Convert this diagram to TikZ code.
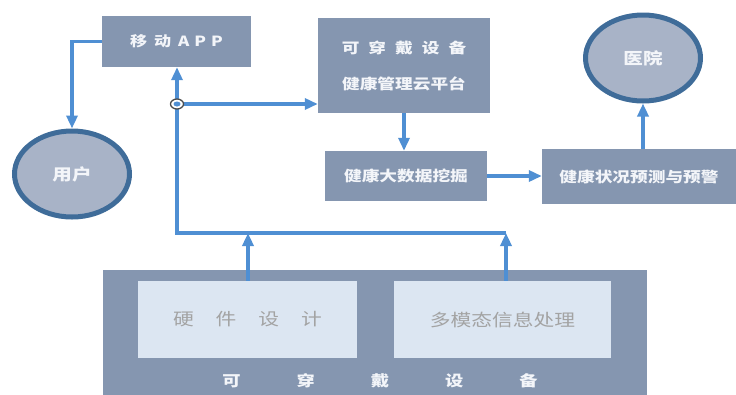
\documentclass[tikz,border=0pt]{standalone}
\usepackage{fontspec}
\setmainfont[FakeStretch=1.22]{Noto Sans CJK SC}
\usetikzlibrary{arrows.meta,shapes.geometric}
\definecolor{boxc}{HTML}{8596B0}
\definecolor{arrc}{HTML}{4F8FD3}
\definecolor{ringc}{HTML}{3F6C99}
\definecolor{ringfill}{HTML}{A8B3C7}
\definecolor{innerc}{HTML}{DCE6F2}
\definecolor{graytxt}{HTML}{A3A3A3}
\definecolor{whitetxt}{HTML}{F3F5F9}
\begin{document}
\begin{tikzpicture}[x=1pt,y=-1pt,
  box/.style={fill=boxc,draw=none,text=whitetxt,inner sep=0pt,align=center,
    font=\bfseries\fontsize{14.5}{16}\selectfont},
  inner/.style={fill=innerc,draw=none,text=graytxt,inner sep=0pt,
    font=\fontsize{17}{19}\selectfont},
  ring/.style={ellipse,draw=ringc,line width=5pt,fill=ringfill,text=whitetxt,
    inner sep=0pt,minimum width=115pt,minimum height=86pt,
    font=\bfseries\fontsize{16}{18}\selectfont},
  ln/.style={draw=arrc,line width=3.8pt},
  arr/.style={ln,-{Triangle[length=13pt,width=11pt]}}
]
\useasboundingbox (0,0) rectangle (736,394);
% big device box
\node[box,minimum width=544pt,minimum height=128pt] (device) at (375,334) {};
\node[inner,minimum width=219pt,minimum height=77pt] (hw) at (247.5,319.5)
  {硬\hspace{22pt}件\hspace{22pt}设\hspace{22pt}计};
\node[inner,minimum width=217pt,minimum height=77pt] (mm) at (502.5,319.5) {多模态信息处理};
\node[text=whitetxt,font=\bfseries\fontsize{15}{17}\selectfont] (devlabel) at (380,381)
  {可\hspace{56pt}穿\hspace{56pt}戴\hspace{56pt}设\hspace{56pt}备};
% top boxes
\node[box,minimum width=149pt,minimum height=51pt,font=\bfseries\fontsize{14}{16}\selectfont] (app) at (176.5,41.5)
  {移\hspace{7pt}动\hspace{7pt}A\hspace{5pt}P\hspace{5pt}P};
\node[box,minimum width=172pt,minimum height=95pt] (cloud) at (404,65.5)
  {可\hspace{9pt}穿\hspace{9pt}戴\hspace{9pt}设\hspace{9pt}备\\[20pt]健康管理云平台};
\node[box,minimum width=162pt,minimum height=50pt] (mining) at (406,176) {健康大数据挖掘};
\node[box,minimum width=194pt,minimum height=55pt] (predict) at (639,176.5) {健康状况预测与预警};
% circles
\node[ring] (user) at (72,174) {用户};
\node[ring] (hospital) at (643,58) {医院};
% coordinates
\coordinate (j1) at (248,233);
\coordinate (j2) at (506,233);
\coordinate (c1) at (177,233);
\coordinate (mk) at (177,104);
% connectors
\draw[arr] (hw.north -| j1) -- (j1);
\draw[arr] (mm.north -| j2) -- (j2);
\draw[arr] (j2) -- (c1) -- (app.south -| c1);
\draw[arr] (mk) -- (cloud.west |- mk);
\draw[arr] (app.west) -| (user.north);
\draw[arr] (cloud.south) -- (cloud.south |- mining.north);
\draw[arr] (mining.east) -- (mining.east -| predict.west);
\draw[arr] (hospital.south |- predict.north) -- (hospital.south);
% marker
\node[ellipse,draw=black!70,line width=1.3pt,fill=white,minimum width=13pt,minimum height=10pt,inner sep=0pt] (marker) at (mk) {};
\node[ellipse,fill=arrc,minimum width=7pt,minimum height=5pt,inner sep=0pt] (markerdot) at (mk) {};
\end{tikzpicture}
\end{document}
